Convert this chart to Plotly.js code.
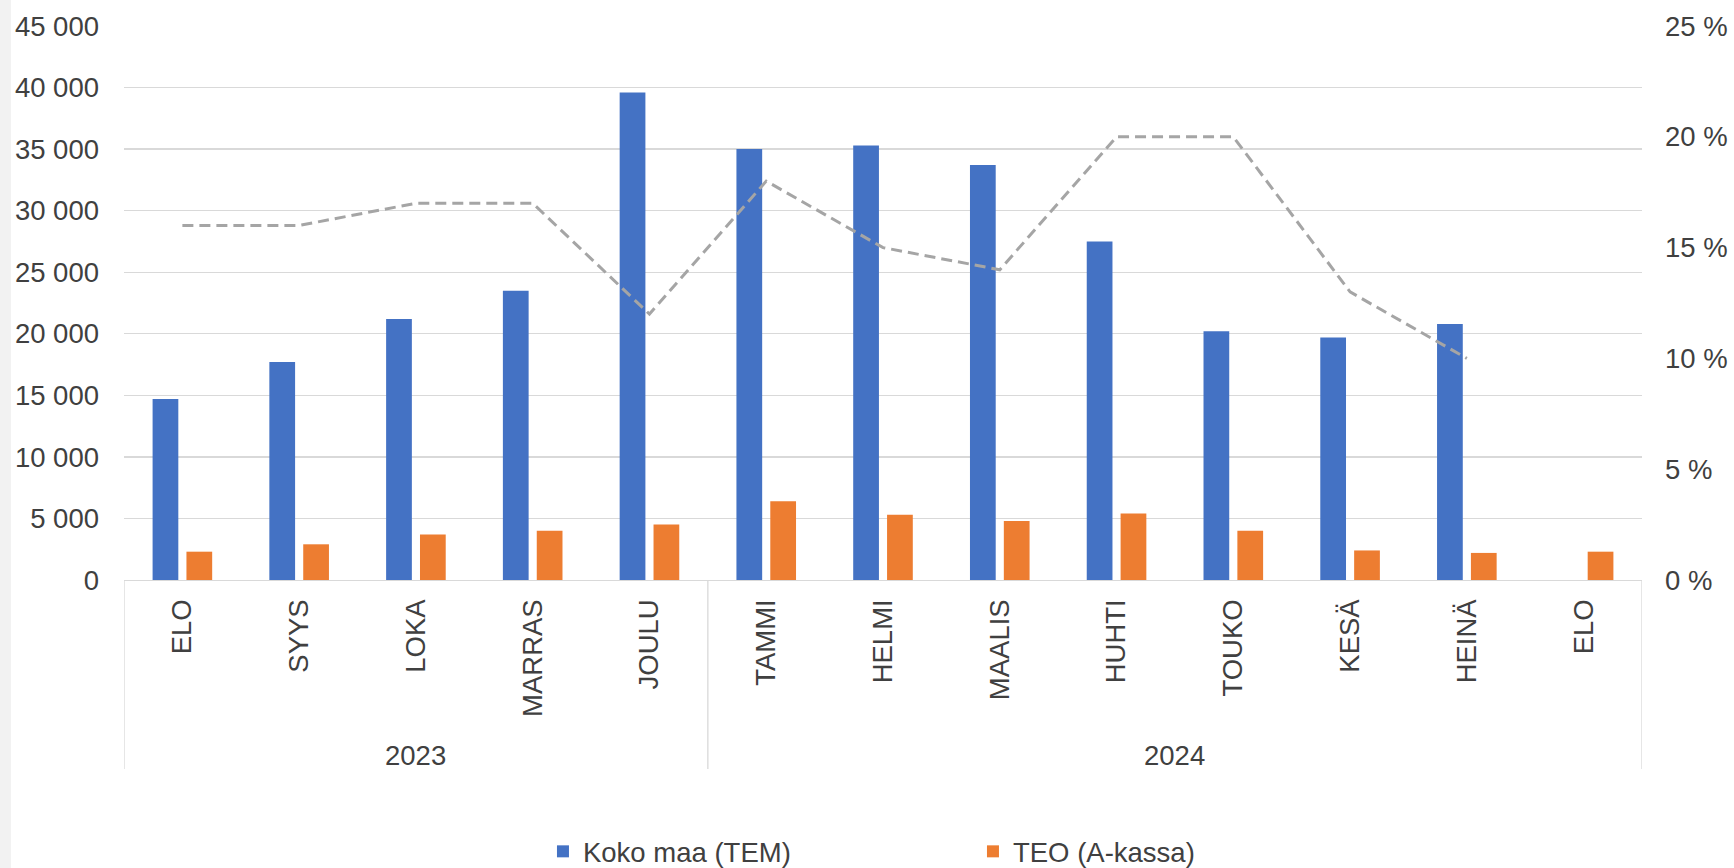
<!DOCTYPE html>
<html>
<head>
<meta charset="utf-8">
<script src="https://cdn.plot.ly/plotly-3.0.1.min.js"></script>
<style>
  html, body { margin: 0; padding: 0; background: #f2f2f2; }
  #chart { position: absolute; left: 11px; top: 0; width: 1723px; height: 868px; background: #ffffff; }
</style>
</head>
<body>
<div id="chart"></div>
<script>
// Data
const years = ["2023","2023","2023","2023","2023","2024","2024","2024","2024","2024","2024","2024","2024"];
const months = ["ELO","SYYS","LOKA","MARRAS","JOULU","TAMMI","HELMI","MAALIS","HUHTI","TOUKO","KESÄ","HEINÄ","ELO"];
const kokoMaa = [14700, 17700, 21200, 23500, 39600, 35000, 35300, 33700, 27500, 20200, 19700, 20800, null];
const teo = [2300, 2900, 3700, 4000, 4500, 6400, 5300, 4800, 5400, 4000, 2400, 2200, 2300];
const osuus = [16, 16, 17, 17, 12, 18, 15, 14, 20, 20, 13, 10, null]; // %
const seriesNames = ["Koko maa (TEM)", "TEO (A-kassa)", "Osuus"];

const FONT = "'Liberation Sans', Arial, sans-serif";
const TXT = "#404040";
const GRID = "#d9d9d9";
const FS = 27.5;

// unique category keys (year + month), displayed as month names
const keys = months.map((m, i) => years[i] + " " + m);

// year groups
const groups = [];
years.forEach((yr, i) => {
  const g = groups[groups.length - 1];
  if (g && g.year === yr) g.end = i; else groups.push({ year: yr, start: i, end: i });
});

const traces = [
  { type: "bar", name: seriesNames[0], x: keys, y: kokoMaa, marker: { color: "#4472c4" }, hoverinfo: "skip" },
  { type: "bar", name: seriesNames[1], x: keys, y: teo, marker: { color: "#ed7d31" }, hoverinfo: "skip" },
  { type: "scatter", mode: "lines", name: seriesNames[2], x: keys, y: osuus, yaxis: "y2",
    line: { color: "#a5a5a5", width: 3, dash: "11px,6px" }, showlegend: false, connectgaps: false, hoverinfo: "skip" }
];

const annotations = groups.map(g => ({
  xref: "x", yref: "paper", x: (g.start + g.end) / 2, y: -0.316, yanchor: "middle", xanchor: "center",
  text: g.year, showarrow: false, font: { family: FONT, size: FS, color: TXT }
}));
const bounds = [-0.5].concat(groups.map(g => g.end + 0.5));
const shapes = bounds.map(b => ({
  type: "line", xref: "x", yref: "paper", x0: b, x1: b, y0: 0, y1: -0.341,
  line: { color: GRID, width: 1.3 }
}));

const layout = {
  width: 1723, height: 868,
  margin: { l: 113, r: 92, t: 26, b: 288, autoexpand: false },
  paper_bgcolor: "#ffffff", plot_bgcolor: "#ffffff",
  separators: ", ",
  font: { family: FONT, size: FS, color: TXT },
  barmode: "group", bargap: 0.42, bargroupgap: 0.24,
  showlegend: true,
  legend: { orientation: "h", x: 0.276, xanchor: "left", y: -0.49, yanchor: "middle",
            font: { family: FONT, size: FS, color: TXT }, entrywidth: 385, traceorder: "normal" },
  annotations: annotations,
  shapes: shapes,
  xaxis: {
    type: "category", tickmode: "array", tickvals: keys, ticktext: months, tickangle: -90,
    showgrid: false, showline: true, linecolor: GRID, linewidth: 1.3, ticks: "", ticklabelstandoff: 7,
    tickfont: { family: FONT, size: FS, color: TXT }, automargin: false, zeroline: false,
    range: [-0.5, keys.length - 0.5]
  },
  yaxis: {
    range: [0, 45000], dtick: 5000, tickformat: ",d", showgrid: true, gridcolor: GRID, gridwidth: 1.3,
    zeroline: false, showline: false, ticks: "", ticklabelstandoff: 24, automargin: false,
    tickfont: { family: FONT, size: FS, color: TXT }
  },
  yaxis2: {
    overlaying: "y", side: "right", range: [0, 25], dtick: 5, ticksuffix: " %", showgrid: false,
    zeroline: false, showline: false, ticks: "", ticklabelstandoff: 22, automargin: false,
    tickfont: { family: FONT, size: FS, color: TXT }
  }
};

Plotly.newPlot("chart", traces, layout, { displayModeBar: false, staticPlot: true });
</script>
</body>
</html>
